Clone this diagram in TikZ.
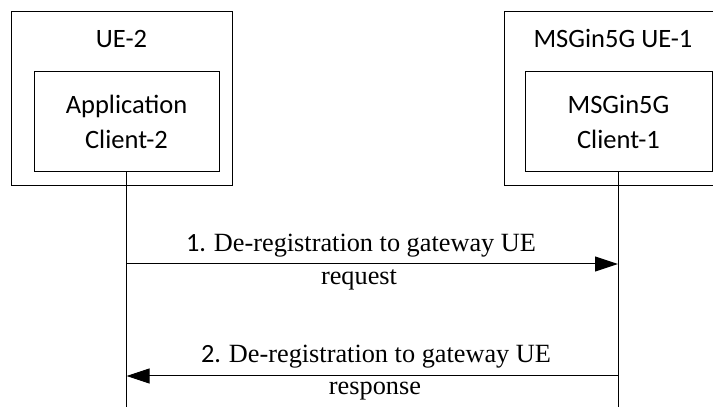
\documentclass[tikz,border=0pt]{standalone}
\usepackage{fontspec}
\setmainfont{Liberation Serif}
\newfontfamily\calibri{Carlito}
\usetikzlibrary{arrows.meta, positioning}

\tikzset{
  outerbox/.style={draw, line width=1pt, inner sep=0pt},
  clientbox/.style={draw, line width=1pt, inner sep=0pt, align=center,
    font=\calibri\fontsize{26.5}{34.5}\selectfont},
  boxlabel/.style={anchor=base, font=\calibri\fontsize{26.5}{30}\selectfont},
  msglabel/.style={anchor=base, font=\fontsize{26.3}{30}\selectfont},
  lifeline/.style={line width=1pt},
  msg/.style={line width=1pt, -{Triangle[length=23pt, width=15pt]}}
}

\begin{document}
\begin{tikzpicture}[x=1pt, y=1pt]

    \useasboundingbox (0,0) rectangle (713,407);

    %% ── UE-2 ──────────────────────────────────────────────────────
    \node[outerbox, minimum width=221pt, minimum height=174pt] (ue2)
      at (121.5, 308) {};
    \node[boxlabel] (ue2lbl) at (121.5, 359) {UE-2};
    \node[clientbox, minimum width=185pt, minimum height=100pt] (app2)
      at (126.5, 285) {Application\\Client-2};

    %% ── MSGin5G UE-1 (cut at right edge) ─────────────────────────
    \node[outerbox, minimum width=226pt, minimum height=174pt] (ue1)
      at (617, 308) {};
    \node[boxlabel] (ue1lbl) at (613, 359) {MSGin5G UE-1};
    \node[clientbox, minimum width=187pt, minimum height=100pt] (msg1)
      at (618.5, 285) {MSGin5G\\Client-1};

    %% Lifelines
    \coordinate (end2) at (app2.south |- 0,0);
    \coordinate (end1) at (618, 0);
    \draw[lifeline] (app2.south) -- (end2);
    \draw[lifeline] (msg1.south -| end1) -- (end1);

    %% 1. request
    \coordinate (req2) at (end2 |- 0,143);
    \coordinate (req1) at (end1 |- 0,143);
    \draw[msg] (req2) -- (req1);
    \node[msglabel] (reqtop) at (361, 155) {{\calibri 1. }De-registration to gateway UE};
    \node[msglabel] (reqbot) at (359, 122) {request};

    %% 2. response
    \coordinate (rsp2) at (end2 |- 0,31);
    \coordinate (rsp1) at (end1 |- 0,31);
    \draw[msg] (rsp1) -- (rsp2);
    \node[msglabel] (rsptop) at (376, 44) {{\calibri 2. }De-registration to gateway UE};
    \node[msglabel] (rspbot) at (375, 12) {response};

\end{tikzpicture}
\end{document}
